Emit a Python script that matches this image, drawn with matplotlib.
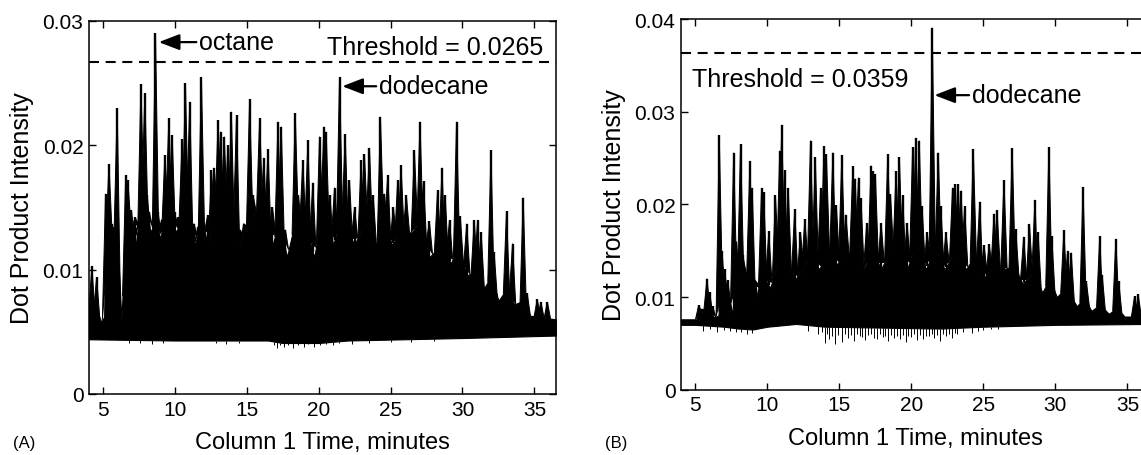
import matplotlib
matplotlib.use("Agg")
import matplotlib.pyplot as plt
import numpy as np

plt.rcParams["font.family"] = ["Liberation Sans", "DejaVu Sans"]

# ---- panel A: peak apexes (minutes, intensity) ----
A_PEAK_T = [4.25, 4.58, 5.20, 5.44, 5.62, 5.80, 6.01, 6.60, 6.75, 7.00, 7.25, 7.45,
            7.66, 7.93, 8.10, 8.25, 8.67, 8.85, 9.10, 9.32, 9.60, 9.83, 10.00, 10.20,
            10.52, 10.75, 11.05, 11.35, 11.60, 11.86, 12.05, 12.30, 12.56, 12.75, 13.02,
            13.20, 13.45, 13.70, 13.94, 14.30, 14.55, 14.80, 15.21, 15.45, 15.91, 16.20,
            16.49, 16.80, 17.18, 17.41, 17.70, 18.38, 18.60, 18.91, 19.26, 19.60, 20.07,
            20.37, 20.53, 20.80, 21.11, 21.46, 21.85, 22.15, 22.50, 22.96, 23.19, 23.54,
            23.80, 24.30, 24.58, 24.81, 25.20, 25.50, 25.73, 26.10, 26.66, 27.05, 27.30,
            27.70, 28.27, 28.58, 28.80, 29.10, 29.59, 29.85, 30.30, 30.82, 31.05, 31.30,
            31.98, 32.20, 33.06, 33.48, 34.22, 34.50, 35.20, 35.45, 35.90]
A_PEAK_H = [0.0103, 0.0094, 0.0161, 0.0185, 0.0137, 0.0134, 0.0230, 0.0176, 0.0172, 0.0148, 0.0142, 0.0137,
            0.0249, 0.0242, 0.0160, 0.0146, 0.0290, 0.0146, 0.0140, 0.0192, 0.0222, 0.0208, 0.0146, 0.0142,
            0.0205, 0.0250, 0.0235, 0.0137, 0.0134, 0.0255, 0.0124, 0.0144, 0.0180, 0.0182, 0.0220,
            0.0211, 0.0207, 0.0200, 0.0227, 0.0224, 0.0132, 0.0137, 0.0237, 0.0160, 0.0222, 0.0190,
            0.0197, 0.0150, 0.0219, 0.0215, 0.0132, 0.0226, 0.0160, 0.0188, 0.0204, 0.0170, 0.0207,
            0.0215, 0.0211, 0.0160, 0.0166, 0.0255, 0.0209, 0.0172, 0.0150, 0.0188, 0.0193, 0.0198,
            0.0160, 0.0223, 0.0161, 0.0176, 0.0150, 0.0172, 0.0184, 0.0160, 0.0196, 0.0219, 0.0171,
            0.0139, 0.0164, 0.0182, 0.0160, 0.0140, 0.0219, 0.0143, 0.0137, 0.0140, 0.0140, 0.0130,
            0.0196, 0.0114, 0.0147, 0.0121, 0.0158, 0.0081, 0.0076, 0.0074, 0.0074]
# top of the solid black mass and the lower edge of the baseline
A_BODY_T = [4.05, 4.7, 4.9, 5.1, 5.2, 6.0, 6.3, 6.6, 7.0, 7.3, 7.6, 8.0, 8.3, 8.7, 9.0,
            9.5, 10.1, 10.7, 11.4, 11.9, 12.3, 13.0, 13.8, 14.5, 15.2, 15.9, 16.8, 17.3,
            17.8, 18.4, 19.2, 19.7, 20.3, 21.0, 21.6, 22.5, 23.3, 24.0, 24.5, 25.1, 25.7,
            26.5, 27.1, 27.7, 28.5, 29.2, 29.7, 30.3, 31.0, 31.5, 32.0, 32.5, 33.1, 33.6,
            34.2, 34.7, 36.5]
A_BODY_TOP = [0.0066, 0.0064, 0.0058, 0.0062, 0.0125, 0.0130, 0.0060, 0.0130, 0.0135, 0.0120,
              0.0150, 0.0150, 0.0130, 0.0140, 0.0125, 0.0150, 0.0130, 0.0150, 0.0120, 0.0140,
              0.0120, 0.0150, 0.0140, 0.0120, 0.0140, 0.0150, 0.0120, 0.0140, 0.0110, 0.0140,
              0.0130, 0.0110, 0.0150, 0.0120, 0.0140, 0.0120, 0.0140, 0.0120, 0.0140, 0.0120,
              0.0130, 0.0130, 0.0140, 0.0110, 0.0120, 0.0105, 0.0120, 0.0095, 0.0100, 0.0085,
              0.0095, 0.0075, 0.0085, 0.0072, 0.0075, 0.0063, 0.0060]
A_BASE_T = [4.05, 10.0, 16.5, 17.5, 20.0, 22.0, 30.0, 36.5]
A_BASE_LO = [0.0044, 0.0043, 0.0043, 0.0041, 0.0041, 0.0043, 0.0045, 0.0047]
A_DIP_T = [6.8, 7.6, 8.4, 9.2, 12.9, 13.6, 14.5, 16.9, 17.1, 17.3, 17.6, 17.9, 18.2, 18.6,
           19.0, 19.3, 19.7, 20.1, 20.5, 21.0, 21.4, 22.3, 23.5, 25.0, 26.4, 28.0]
A_DIP_V = [0.0041, 0.0041, 0.0040, 0.0041, 0.0041, 0.0040, 0.0041, 0.0039, 0.0037, 0.0039,
           0.0038, 0.0039, 0.0037, 0.0039, 0.0038, 0.0040, 0.0038, 0.0039, 0.0040, 0.0039,
           0.0041, 0.0040, 0.0041, 0.0042, 0.0042, 0.0043]
A_THRESH_Y = 0.0267

# ---- panel B ----
B_PEAK_T = [5.23, 5.45, 5.81, 6.00, 6.20, 6.66, 6.85, 7.03, 7.26, 7.66, 7.85, 8.14, 8.30,
            8.79, 8.95, 9.20, 9.60, 9.75, 10.10, 10.56, 10.86, 11.00, 11.20, 11.45, 11.90,
            12.30, 12.60, 13.00, 13.33, 13.70, 13.93, 14.10, 14.55, 14.79, 15.17, 15.45,
            15.94, 16.10, 16.33, 16.50, 16.90, 17.20, 17.35, 17.50, 17.90, 18.36, 18.55,
            18.94, 19.17, 19.40, 19.70, 20.09, 20.30, 20.55, 20.75, 21.10, 21.45, 21.87,
            22.05, 22.40, 22.86, 23.05, 23.25, 23.45, 23.70, 24.30, 24.75, 25.05, 25.40,
            25.74, 25.95, 26.43, 27.00, 27.25, 27.80, 28.20, 28.58, 28.80, 29.55, 29.75,
            30.59, 30.85, 31.10, 31.92, 32.15, 33.08, 33.25, 34.20, 34.40, 35.50, 35.75]
B_PEAK_H = [0.0091, 0.0087, 0.0120, 0.0105, 0.0090, 0.0275, 0.0150, 0.0130, 0.0118, 0.0256, 0.0160, 0.0265, 0.0145,
            0.0247, 0.0218, 0.0110, 0.0218, 0.0213, 0.0171, 0.0210, 0.0258, 0.0286, 0.0237, 0.0218, 0.0195,
            0.0170, 0.0184, 0.0269, 0.0251, 0.0218, 0.0263, 0.0254, 0.0256, 0.0199, 0.0253, 0.0189,
            0.0241, 0.0228, 0.0229, 0.0207, 0.0180, 0.0242, 0.0236, 0.0233, 0.0180, 0.0254, 0.0211,
            0.0236, 0.0251, 0.0210, 0.0180, 0.0262, 0.0272, 0.0269, 0.0198, 0.0170, 0.0391, 0.0256,
            0.0198, 0.0170, 0.0218, 0.0222, 0.0222, 0.0215, 0.0198, 0.0260, 0.0203, 0.0156, 0.0157,
            0.0190, 0.0194, 0.0226, 0.0261, 0.0173, 0.0165, 0.0179, 0.0205, 0.0170, 0.0262, 0.0166,
            0.0172, 0.0150, 0.0148, 0.0219, 0.0117, 0.0166, 0.0124, 0.0163, 0.0117, 0.0101, 0.0103]
B_BODY_T = [4.0, 5.1, 5.2, 5.9, 6.3, 6.6, 6.8, 7.3, 7.6, 7.8, 8.3, 8.9, 9.2, 9.6, 10.2,
            10.8, 11.3, 12.0, 13.0, 13.6, 14.2, 14.8, 15.3, 16.0, 16.7, 17.3, 17.9, 18.5,
            19.2, 19.7, 20.4, 21.0, 21.6, 22.3, 23.1, 23.8, 24.4, 25.0, 25.8, 26.5, 27.1,
            27.7, 28.5, 29.1, 29.6, 30.1, 30.7, 31.5, 32.0, 32.5, 33.1, 33.7, 34.3, 34.8, 36.5]
B_BODY_TOP = [0.0076, 0.0076, 0.0082, 0.0088, 0.0078, 0.0080, 0.0110, 0.0100, 0.0082, 0.0115,
              0.0125, 0.0130, 0.0098, 0.0125, 0.0110, 0.0140, 0.0135, 0.0120, 0.0145, 0.0130,
              0.0150, 0.0135, 0.0145, 0.0150, 0.0130, 0.0150, 0.0130, 0.0150, 0.0145, 0.0130,
              0.0160, 0.0130, 0.0150, 0.0130, 0.0150, 0.0130, 0.0145, 0.0120, 0.0135, 0.0130,
              0.0135, 0.0115, 0.0125, 0.0105, 0.0120, 0.0100, 0.0110, 0.0090, 0.0100, 0.0085,
              0.0092, 0.0082, 0.0088, 0.0079, 0.0079]
B_BASE_T = [4.0, 5.0, 7.0, 8.0, 9.0, 10.0, 12.0, 14.0, 22.0, 25.0, 30.0, 36.5]
B_BASE_LO = [0.0070, 0.0070, 0.0068, 0.0066, 0.0065, 0.0068, 0.0071, 0.0068, 0.0066, 0.0068,
             0.0070, 0.0071]
B_DIP_T = [5.5, 6.0, 6.5, 7.0, 7.4, 7.8, 8.2, 8.6, 8.9, 12.8, 13.5, 13.8, 14.0, 14.15, 14.3,
           14.5, 14.7, 14.9, 15.2, 15.4, 15.6, 15.8, 16.0, 16.2, 16.4, 16.6, 16.8, 17.0,
           17.2, 17.4, 17.6, 17.8, 18.0, 18.2, 18.4, 18.6, 18.8, 19.0, 19.2, 19.4, 19.6,
           19.8, 20.0, 20.2, 20.4, 20.6, 20.8, 21.0, 21.2, 21.4, 21.6, 21.8, 22.0, 22.2,
           22.4, 22.6, 22.8, 23.0, 23.2, 23.6, 24.2, 24.6, 25.0, 25.5, 26.0]
B_DIP_V = [0.0063, 0.0066, 0.0062, 0.0064, 0.0063, 0.0062, 0.0062, 0.0060, 0.0061, 0.0063,
           0.0060, 0.0062, 0.0050, 0.0060, 0.0055, 0.0058, 0.0049, 0.0059, 0.0052, 0.0060,
           0.0056, 0.0059, 0.0053, 0.0060, 0.0058, 0.0057, 0.0054, 0.0059, 0.0060, 0.0056,
           0.0055, 0.0060, 0.0057, 0.0058, 0.0053, 0.0059, 0.0056, 0.0058, 0.0055, 0.0059,
           0.0052, 0.0058, 0.0057, 0.0060, 0.0054, 0.0059, 0.0055, 0.0058, 0.0058, 0.0060,
           0.0056, 0.0059, 0.0053, 0.0060, 0.0058, 0.0060, 0.0056, 0.0061, 0.0060, 0.0062,
           0.0061, 0.0063, 0.0064, 0.0065, 0.0066]
B_THRESH_Y = 0.0363

X_TICKS = [5, 10, 15, 20, 25, 30, 35]
A_Y_TICKS = [0, 0.01, 0.02, 0.03]
A_Y_LABELS = ["0", "0.01", "0.02", "0.03"]
B_Y_TICKS = [0, 0.01, 0.02, 0.03, 0.04]
B_Y_LABELS = ["0", "0.01", "0.02", "0.03", "0.04"]

HW = 0.22  # half width of a peak at its foot, minutes


def draw_trace(ax, body_t, body_top, base_t, base_lo, peak_t, peak_h, dip_t, dip_v):
    grid = np.union1d(body_t, base_t)
    lo = np.interp(grid, base_t, base_lo)
    hi = np.interp(grid, body_t, body_top)
    ax.fill_between(grid, lo, hi, color="k", lw=0.8, zorder=2)
    for t, h in zip(peak_t, peak_h):
        bl = np.interp(t - HW, body_t, body_top)
        br = np.interp(t + HW, body_t, body_top)
        ax.fill([t - HW, t, t + HW], [bl, h, br], color="k", lw=0.7, zorder=2)
    foot = np.interp(peak_t, body_t, body_top)
    ax.vlines(peak_t, foot, peak_h, color="k", lw=1.7, zorder=2)
    top_of_base = np.interp(dip_t, base_t, base_lo)
    ax.vlines(dip_t, dip_v, top_of_base, color="k", lw=0.7, zorder=2)


def style(ax, yticks, ylabels, ylim):
    ax.set_xlim(4.05, 36.5)
    ax.set_ylim(*ylim)
    ax.set_xticks(X_TICKS)
    ax.set_yticks(yticks)
    ax.set_yticklabels(ylabels)
    ax.tick_params(direction="in", length=5, width=1.0, labelsize=15, top=True, right=True, pad=4)
    for s in ax.spines.values():
        s.set_linewidth(1.1)
    ax.set_xlabel("Column 1 Time, minutes", fontsize=17, labelpad=9)
    ax.set_ylabel("Dot Product Intensity", fontsize=18, labelpad=6)


fig = plt.figure(figsize=(11.41, 4.56), dpi=100)
ax_a = fig.add_axes([0.0780, 0.1338, 0.4093, 0.8180])
ax_b = fig.add_axes([0.5968, 0.1432, 0.4102, 0.8125])

draw_trace(ax_a, A_BODY_T, A_BODY_TOP, A_BASE_T, A_BASE_LO, A_PEAK_T, A_PEAK_H, A_DIP_T, A_DIP_V)
style(ax_a, A_Y_TICKS, A_Y_LABELS, (0, 0.03))
ax_a.axhline(A_THRESH_Y, color="k", lw=1.5, linestyle=(0, (4.8, 3.2)), zorder=3)
ax_a.text(35.6, 0.0279, "Threshold = 0.0265", fontsize=18, ha="right", va="center")

arrow = dict(arrowstyle="-|>,head_length=0.7,head_width=0.27", color="k", lw=1.6,
             shrinkA=0, shrinkB=0)
ax_a.annotate("octane", xy=(8.9, 0.0283), xytext=(11.7, 0.0283), fontsize=18,
              ha="left", va="center", arrowprops=arrow)
ax_a.annotate("dodecane", xy=(21.65, 0.02475), xytext=(24.2, 0.02475), fontsize=18,
              ha="left", va="center", arrowprops=arrow)

draw_trace(ax_b, B_BODY_T, B_BODY_TOP, B_BASE_T, B_BASE_LO, B_PEAK_T, B_PEAK_H, B_DIP_T, B_DIP_V)
style(ax_b, B_Y_TICKS, B_Y_LABELS, (0, 0.04))
ax_b.set_xlim(4.0, 36.5)
ax_b.axhline(B_THRESH_Y, color="k", lw=1.5, linestyle=(0, (4.8, 3.2)), zorder=3)
ax_b.text(4.8, 0.0335, "Threshold = 0.0359", fontsize=18, ha="left", va="center")
ax_b.annotate("dodecane", xy=(21.6, 0.0318), xytext=(24.2, 0.0318), fontsize=18,
              ha="left", va="center", arrowprops=arrow)

fig.text(0.011, 0.028, "(A)", fontsize=12, va="center")
fig.text(0.530, 0.028, "(B)", fontsize=12, va="center")

fig.savefig("out.png", dpi=100)
